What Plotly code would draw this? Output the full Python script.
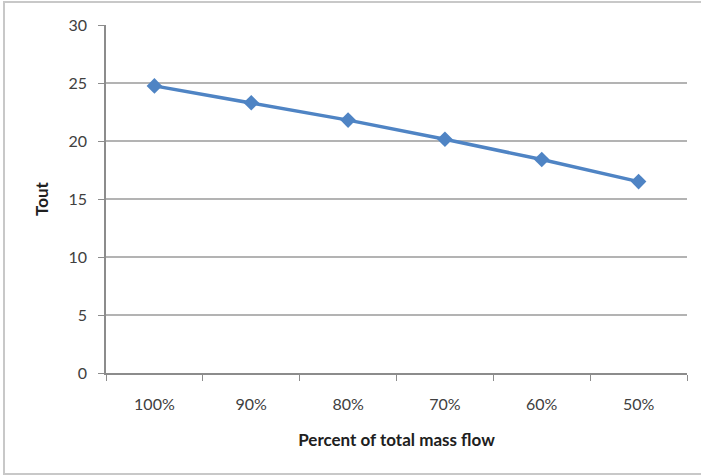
import plotly.graph_objects as go

# Outlet temperature versus share of total mass flow
categories = ["100%", "90%", "80%", "70%", "60%", "50%"]
tout_values = [24.75, 23.3, 21.8, 20.15, 18.4, 16.5]
y_ticks = [0, 5, 10, 15, 20, 25, 30]

line_blue = "#4F84C4"
grid_gray = "#B3B3B3"
axis_gray = "#8C8C8C"
text_gray = "#404040"
font_family = "Lato, 'Open Sans', Arial, sans-serif"

fig = go.Figure()
fig.add_trace(go.Scatter(
    x=categories,
    y=tout_values,
    mode="lines+markers",
    line=dict(color=line_blue, width=3.5),
    marker=dict(symbol="diamond", size=12, color=line_blue),
    showlegend=False,
))

fig.update_layout(
    width=701,
    height=475,
    margin=dict(l=106, r=14, t=25, b=102),
    paper_bgcolor="white",
    plot_bgcolor="white",
    font=dict(family=font_family, size=16, color=text_gray),
    xaxis=dict(
        type="category",
        range=[-0.5, 5.5],
        tickson="boundaries",
        ticks="outside",
        ticklen=6,
        tickcolor=axis_gray,
        showgrid=False,
        showline=True,
        linecolor=axis_gray,
        linewidth=1.5,
        ticklabelstandoff=16,
        tickfont=dict(size=16, color=text_gray),
        title=dict(text="<b>Percent of total mass flow</b>", standoff=22,
                   font=dict(size=17, color="#202020")),
    ),
    yaxis=dict(
        range=[0, 30],
        tickvals=y_ticks,
        ticks="outside",
        ticklen=6,
        tickcolor=axis_gray,
        showgrid=True,
        gridcolor=grid_gray,
        gridwidth=1.5,
        showline=True,
        linecolor=axis_gray,
        linewidth=1.5,
        zeroline=False,
        ticklabelstandoff=8,
        tickfont=dict(size=16, color=text_gray),
        title=dict(text="<b>Tout</b>", standoff=16,
                   font=dict(size=17, color="#202020")),
    ),
)

# Chart frame around the whole figure area
fig.add_shape(type="rect", xref="paper", yref="paper",
              x0=(4 - 106) / 581, x1=(703 - 106) / 581,
              y0=(373 - 474) / 348, y1=(373 - 2) / 348,
              line=dict(color="#C8C8C8", width=2), layer="below")

fig.write_html("out.html")
